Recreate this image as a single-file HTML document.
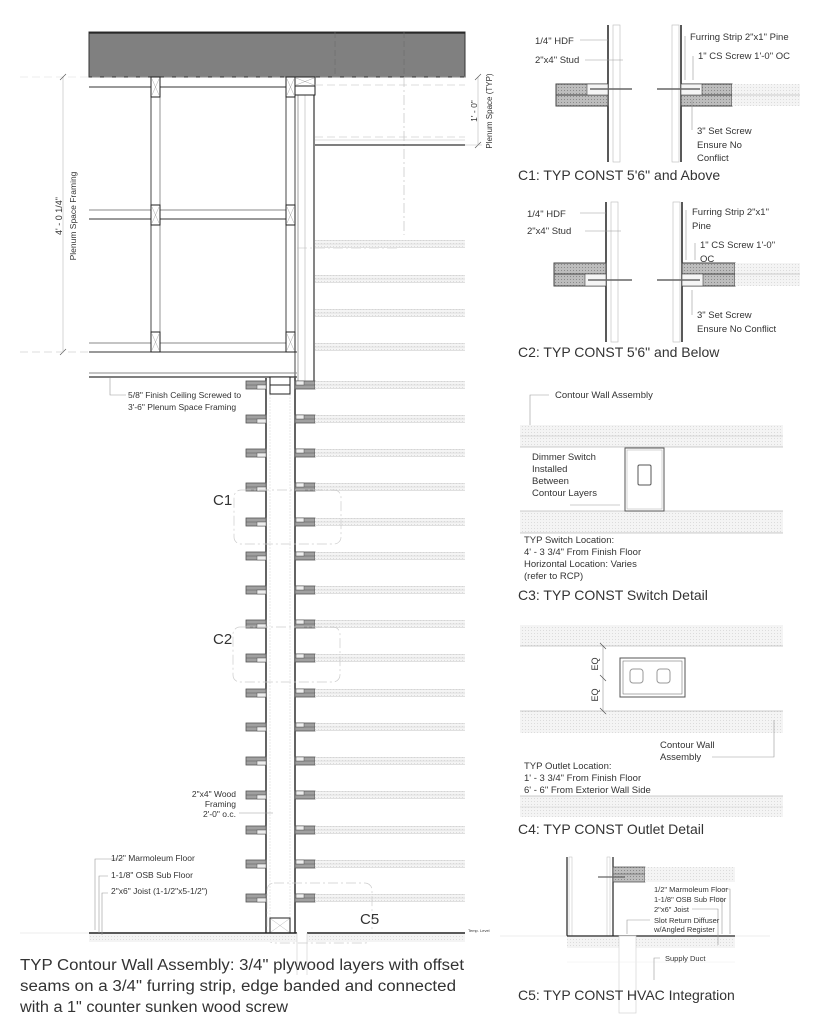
<!DOCTYPE html>
<html><head><meta charset="utf-8"><style>
html,body{margin:0;padding:0;background:#fff}
svg{display:block}
text{font-family:"Liberation Sans",sans-serif;fill:#333}
</style></head><body>
<svg width="819" height="1023" viewBox="0 0 819 1023" xmlns="http://www.w3.org/2000/svg">
<defs>
  <pattern id="hat" width="3" height="3" patternUnits="userSpaceOnUse">
    <rect width="3" height="3" fill="#bdbdbd"/><rect width="1" height="1" fill="#8a8a8a"/>
  </pattern>
  <pattern id="lt" width="3" height="3" patternUnits="userSpaceOnUse">
    <rect width="3" height="3" fill="#f4f4f4"/><rect width="1" height="1" fill="#dcdcdc"/>
  </pattern>
  <g id="strip">
    <rect x="246" y="0" width="20" height="8" fill="#a0a0a0" stroke="#555" stroke-width="0.8"/>
    <line x1="246" y1="4" x2="266" y2="4" stroke="#555" stroke-width="0.6"/>
    <rect x="257" y="4" width="9" height="4" fill="#eee" stroke="#555" stroke-width="0.5"/>
    <rect x="295" y="0" width="20" height="8" fill="#a0a0a0" stroke="#555" stroke-width="0.8"/>
    <line x1="295" y1="4" x2="315" y2="4" stroke="#555" stroke-width="0.6"/>
    <rect x="296" y="0" width="8" height="4" fill="#eee" stroke="#555" stroke-width="0.5"/>
    <rect x="315" y="0" width="150" height="8" fill="url(#lt)"/>
    <line x1="315" y1="0.5" x2="465" y2="0.5" stroke="#ccc" stroke-width="0.6"/>
    <line x1="315" y1="4" x2="465" y2="4" stroke="#ccc" stroke-width="0.6"/>
    <line x1="315" y1="7.5" x2="465" y2="7.5" stroke="#ccc" stroke-width="0.6"/>
  </g>
  <g id="lstrip">
    <rect x="315" y="0" width="150" height="8" fill="url(#lt)"/>
    <line x1="315" y1="0.5" x2="465" y2="0.5" stroke="#ccc" stroke-width="0.6"/>
    <line x1="315" y1="4" x2="465" y2="4" stroke="#ccc" stroke-width="0.6"/>
    <line x1="315" y1="7.5" x2="465" y2="7.5" stroke="#ccc" stroke-width="0.6"/>
  </g>
  <g id="blk">
    <rect x="0" y="0" width="9" height="20" fill="#fff" stroke="#222" stroke-width="1"/>
    <path d="M1 2 L8 18 M8 2 L1 18" stroke="#aaa" stroke-width="0.5"/>
  </g>
</defs>

<!-- slab -->
<rect x="89" y="32" width="376" height="45" fill="#808080" stroke="#333" stroke-width="1"/>
<line x1="89" y1="33" x2="465" y2="33" stroke="#222" stroke-width="1.2"/>
<line x1="335" y1="32" x2="335" y2="77" stroke="#6a6a6a" stroke-width="0.6" stroke-dasharray="6 3"/>
<line x1="404" y1="32" x2="404" y2="77" stroke="#6a6a6a" stroke-width="0.6" stroke-dasharray="6 3"/>

<!-- plenum framing -->
<line x1="20" y1="77" x2="465" y2="77" stroke="#ddd" stroke-width="0.6" stroke-dasharray="8 4"/>
<g stroke="#333" stroke-width="0.9" fill="none">
  <line x1="89" y1="87" x2="295" y2="87"/>
  <line x1="89" y1="210" x2="295" y2="210" stroke="#888"/>
  <line x1="89" y1="219" x2="295" y2="219"/>
  <line x1="89" y1="343" x2="295" y2="343" stroke="#888"/>
  <line x1="89" y1="352" x2="297" y2="352"/>
  <line x1="151" y1="77" x2="151" y2="352"/>
  <line x1="160" y1="77" x2="160" y2="352" stroke="#888"/>
  <line x1="286" y1="77" x2="286" y2="352"/>
  <line x1="295" y1="95" x2="295" y2="383"/>
  <line x1="298" y1="95" x2="298" y2="383" stroke="#999"/>
  <line x1="305" y1="95" x2="305" y2="383" stroke="#ccc"/>
  <line x1="314" y1="95" x2="314" y2="383" stroke-width="1.2"/>
  <line x1="89" y1="373" x2="297" y2="373" stroke="#888"/>
  <line x1="89" y1="377" x2="297" y2="377" stroke-width="1.2"/>
</g>
<use href="#blk" x="151" y="77"/><use href="#blk" x="286" y="77"/>
<use href="#blk" x="151" y="205"/><use href="#blk" x="286" y="205"/>
<use href="#blk" x="151" y="332"/><use href="#blk" x="286" y="332"/>
<rect x="295" y="77" width="20" height="9" fill="#fff" stroke="#222"/>
<rect x="295" y="86" width="20" height="9" fill="#fff" stroke="#222"/>
<path d="M296 78 L314 85 M314 78 L296 85" stroke="#aaa" stroke-width="0.5"/>

<!-- right plenum -->
<g stroke="#bbb" stroke-width="0.6" fill="none">
  <line x1="315" y1="85" x2="465" y2="85" stroke-dasharray="8 4"/>
  <line x1="315" y1="137" x2="465" y2="137" stroke-dasharray="8 4"/>
  <line x1="315" y1="140" x2="465" y2="140"/>
  <line x1="404" y1="77" x2="404" y2="235" stroke-dasharray="10 3 2 3"/>
  <path d="M297 248 L397 248 Q404 248 404 240" stroke-dasharray="10 3 2 3"/>
</g>
<line x1="315" y1="145" x2="465" y2="145" stroke="#333" stroke-width="1.2"/>
<use href="#lstrip" x="0" y="240"/>
<use href="#lstrip" x="0" y="275"/>
<use href="#lstrip" x="0" y="309"/>
<use href="#lstrip" x="0" y="343"/>

<!-- dimensions -->
<g stroke="#bbb" stroke-width="0.6">
  <line x1="63" y1="77" x2="63" y2="352"/>
  <line x1="60" y1="80" x2="66" y2="74" stroke="#555"/>
  <line x1="60" y1="355" x2="66" y2="349" stroke="#555"/>
  <line x1="20" y1="352" x2="89" y2="352" stroke-dasharray="8 4"/>
  <line x1="478" y1="77" x2="478" y2="145"/>
  <line x1="475" y1="80" x2="481" y2="74" stroke="#555"/>
  <line x1="475" y1="148" x2="481" y2="142" stroke="#555"/>
  <line x1="465" y1="145" x2="482" y2="145"/>
</g>
<text transform="translate(62,216) rotate(-90)" font-size="9" text-anchor="middle">4' - 0 1/4"</text>
<text transform="translate(76,216) rotate(-90)" font-size="8.5" text-anchor="middle">Plenum Space Framing</text>
<text transform="translate(477,111) rotate(-90)" font-size="8.5" text-anchor="middle">1' - 0"</text>
<text transform="translate(492,111) rotate(-90)" font-size="8" text-anchor="middle">Plenum Space (TYP)</text>

<!-- main wall -->
<g stroke="#222" fill="none">
  <line x1="266" y1="378" x2="266" y2="933" stroke-width="1.4"/>
  <line x1="295" y1="378" x2="295" y2="933" stroke-width="1.4"/>
  <line x1="270" y1="394" x2="270" y2="920" stroke="#ddd" stroke-width="0.6" stroke-dasharray="2 1"/>
  <line x1="290" y1="394" x2="290" y2="920" stroke="#ddd" stroke-width="0.6" stroke-dasharray="2 1"/>
</g>
<rect x="270" y="377" width="20" height="8" fill="#fff" stroke="#222"/>
<rect x="270" y="385" width="20" height="9" fill="#fff" stroke="#222"/>
<rect x="270" y="918" width="20" height="15" fill="#fff" stroke="#222"/>
<path d="M271 919 L289 932 M289 919 L271 932" stroke="#bbb" stroke-width="0.5"/>
<use href="#strip" y="381"/><use href="#strip" y="415"/><use href="#strip" y="449"/><use href="#strip" y="483"/>
<use href="#strip" y="518"/><use href="#strip" y="552"/><use href="#strip" y="586"/><use href="#strip" y="620"/>
<use href="#strip" y="654"/><use href="#strip" y="689"/><use href="#strip" y="723"/><use href="#strip" y="757"/>
<use href="#strip" y="791"/><use href="#strip" y="826"/><use href="#strip" y="860"/><use href="#strip" y="894"/>

<!-- callout boxes -->
<g fill="none" stroke="#ccc" stroke-width="0.7" stroke-dasharray="10 3 2 3">
  <rect x="234" y="490" width="107" height="54" rx="7"/>
  <rect x="233" y="627" width="107" height="55" rx="7"/>
  <rect x="267" y="883" width="105" height="60" rx="7"/>
</g>
<text x="213" y="505" font-size="15">C1</text>
<text x="213" y="644" font-size="15">C2</text>
<text x="360" y="924" font-size="15">C5</text>

<!-- floor -->
<rect x="89" y="934" width="208" height="8" fill="url(#lt)"/>
<rect x="307" y="934" width="158" height="8" fill="url(#lt)"/>
<line x1="89" y1="933" x2="297" y2="933" stroke="#222" stroke-width="1.4"/>
<line x1="307" y1="933" x2="465" y2="933" stroke="#222" stroke-width="1.4"/>
<line x1="20" y1="933" x2="89" y2="933" stroke="#ddd" stroke-width="0.6"/>
<line x1="297" y1="933" x2="297" y2="975" stroke="#ccc" stroke-width="0.6"/>
<line x1="307" y1="933" x2="307" y2="975" stroke="#ccc" stroke-width="0.6"/>
<text x="468" y="932" font-size="4" fill="#999">Temp. Level</text>

<!-- left labels -->
<g stroke="#999" stroke-width="0.6" fill="none">
  <polyline points="110,378 110,395 126,395"/>
  <line x1="239" y1="813" x2="273" y2="813"/>
  <polyline points="124,859 95,859 95,930"/>
  <polyline points="108,876 99,876 99,933"/>
  <polyline points="108,893 102,893 102,935"/>
</g>
<text x="128" y="398" font-size="8.5">5/8" Finish Ceiling Screwed to</text>
<text x="128" y="410" font-size="8.5">3'-6" Plenum Space Framing</text>
<text x="236" y="797" font-size="8.5" text-anchor="end">2"x4" Wood</text>
<text x="236" y="807" font-size="8.5" text-anchor="end">Framing</text>
<text x="236" y="817" font-size="8.5" text-anchor="end">2'-0" o.c.</text>
<text x="111" y="861" font-size="8.5">1/2" Marmoleum Floor</text>
<text x="111" y="878" font-size="8.5">1-1/8" OSB Sub Floor</text>
<text x="111" y="894" font-size="8.5">2"x6" Joist (1-1/2"x5-1/2")</text>

<text x="20" y="970" font-size="15.5" textLength="444" lengthAdjust="spacingAndGlyphs">TYP Contour Wall Assembly: 3/4" plywood layers with offset</text>
<text x="20" y="991" font-size="15.5" textLength="436" lengthAdjust="spacingAndGlyphs">seams on a 3/4" furring strip, edge banded and connected</text>
<text x="20" y="1012" font-size="15.5" textLength="268" lengthAdjust="spacingAndGlyphs">with a 1" counter sunken wood screw</text>

<!-- C1 -->
<g stroke="#222" fill="none">
  <line x1="608" y1="25" x2="608" y2="162" stroke-width="1.5"/>
  <rect x="613" y="25" width="7" height="137" stroke="#bbb" stroke-width="0.6"/>
  <rect x="672" y="25" width="7" height="137" stroke="#bbb" stroke-width="0.6"/>
  <line x1="681" y1="25" x2="681" y2="162" stroke-width="1.5"/>
</g>
<rect x="556" y="84" width="52" height="22" fill="url(#hat)" stroke="#444"/>
<line x1="556" y1="95" x2="608" y2="95" stroke="#444"/>
<rect x="587" y="84" width="21" height="11" fill="#f5f5f5" stroke="#444" stroke-width="0.6"/>
<line x1="590" y1="89" x2="632" y2="89" stroke="#666" stroke-width="1.5"/>
<rect x="681" y="84" width="51" height="22" fill="url(#hat)" stroke="#444"/>
<line x1="681" y1="95" x2="732" y2="95" stroke="#444"/>
<rect x="681" y="84" width="21" height="11" fill="#f5f5f5" stroke="#444" stroke-width="0.6"/>
<line x1="657" y1="89" x2="700" y2="89" stroke="#666" stroke-width="1.5"/>
<rect x="732" y="84" width="68" height="22" fill="url(#lt)"/>
<line x1="732" y1="95" x2="800" y2="95" stroke="#ccc"/>
<g stroke="#999" stroke-width="0.6">
  <line x1="580" y1="40" x2="608" y2="40"/><line x1="585" y1="60" x2="623" y2="60"/>
  <line x1="685" y1="36" x2="685" y2="80"/><line x1="693" y1="56" x2="693" y2="80"/>
  <line x1="692" y1="100" x2="692" y2="130"/>
</g>
<text x="535" y="44" font-size="9.5">1/4" HDF</text>
<text x="535" y="63" font-size="9.5">2"x4" Stud</text>
<text x="690" y="40" font-size="9.5">Furring Strip 2"x1" Pine</text>
<text x="698" y="59" font-size="9.5">1" CS Screw 1'-0" OC</text>
<text x="697" y="134" font-size="9.5">3" Set Screw</text>
<text x="697" y="148" font-size="9.5">Ensure No</text>
<text x="697" y="161" font-size="9.5">Conflict</text>
<text x="518" y="180" font-size="14">C1: TYP CONST 5'6" and Above</text>

<!-- C2 -->
<g stroke="#222" fill="none">
  <line x1="606" y1="202" x2="606" y2="342" stroke-width="1.5"/>
  <rect x="611" y="202" width="7" height="140" stroke="#bbb" stroke-width="0.6"/>
  <rect x="673" y="202" width="7" height="140" stroke="#bbb" stroke-width="0.6"/>
  <line x1="682" y1="202" x2="682" y2="342" stroke-width="1.5"/>
</g>
<rect x="554" y="263" width="52" height="23" fill="url(#hat)" stroke="#444"/>
<line x1="554" y1="274" x2="606" y2="274" stroke="#444"/>
<rect x="585" y="274" width="21" height="12" fill="#f5f5f5" stroke="#444" stroke-width="0.6"/>
<line x1="588" y1="280" x2="632" y2="280" stroke="#666" stroke-width="1.5"/>
<rect x="682" y="263" width="53" height="23" fill="url(#hat)" stroke="#444"/>
<line x1="682" y1="274" x2="735" y2="274" stroke="#444"/>
<rect x="682" y="274" width="21" height="12" fill="#f5f5f5" stroke="#444" stroke-width="0.6"/>
<line x1="657" y1="280" x2="700" y2="280" stroke="#666" stroke-width="1.5"/>
<rect x="735" y="263" width="65" height="23" fill="url(#lt)"/>
<line x1="735" y1="274" x2="800" y2="274" stroke="#ccc"/>
<g stroke="#999" stroke-width="0.6">
  <line x1="580" y1="213" x2="606" y2="213"/><line x1="585" y1="231" x2="621" y2="231"/>
  <line x1="686" y1="210" x2="686" y2="260"/><line x1="695" y1="243" x2="695" y2="260"/>
  <line x1="692" y1="290" x2="692" y2="315"/>
</g>
<text x="527" y="217" font-size="9.5">1/4" HDF</text>
<text x="527" y="234" font-size="9.5">2"x4" Stud</text>
<text x="692" y="215" font-size="9.5">Furring Strip 2"x1"</text>
<text x="692" y="229" font-size="9.5">Pine</text>
<text x="700" y="248" font-size="9.5">1" CS Screw 1'-0"</text>
<text x="700" y="262" font-size="9.5">OC</text>
<text x="697" y="318" font-size="9.5">3" Set Screw</text>
<text x="697" y="332" font-size="9.5">Ensure No Conflict</text>
<text x="518" y="357" font-size="14">C2: TYP CONST 5'6" and Below</text>

<!-- C3 -->
<polyline points="549,395 530,395 530,425" stroke="#999" stroke-width="0.6" fill="none"/>
<text x="555" y="398" font-size="9.5">Contour Wall Assembly</text>
<rect x="520" y="425" width="263" height="22" fill="url(#lt)"/>
<line x1="520" y1="436" x2="783" y2="436" stroke="#bbb" stroke-width="0.6"/>
<line x1="520" y1="447" x2="783" y2="447" stroke="#999" stroke-width="0.6"/>
<rect x="520" y="511" width="263" height="22" fill="url(#lt)"/>
<line x1="520" y1="511" x2="783" y2="511" stroke="#999" stroke-width="0.6"/>
<line x1="520" y1="533" x2="783" y2="533" stroke="#999" stroke-width="0.6"/>
<rect x="625" y="448" width="39" height="63" fill="#fff" stroke="#555"/>
<rect x="627" y="450" width="35" height="59" fill="none" stroke="#aaa" stroke-width="0.5"/>
<rect x="638" y="465" width="13" height="20" rx="1.5" fill="#fff" stroke="#555"/>
<line x1="570" y1="505" x2="620" y2="505" stroke="#999" stroke-width="0.6"/>
<text x="532" y="460" font-size="9.5">Dimmer Switch</text>
<text x="532" y="472" font-size="9.5">Installed</text>
<text x="532" y="484" font-size="9.5">Between</text>
<text x="532" y="496" font-size="9.5">Contour Layers</text>
<text x="524" y="543" font-size="9.5">TYP Switch Location:</text>
<text x="524" y="555" font-size="9.5">4' - 3 3/4" From Finish Floor</text>
<text x="524" y="567" font-size="9.5">Horizontal Location: Varies</text>
<text x="524" y="579" font-size="9.5">(refer to RCP)</text>
<text x="518" y="600" font-size="14">C3: TYP CONST Switch Detail</text>

<!-- C4 -->
<rect x="520" y="625" width="263" height="21" fill="url(#lt)"/>
<line x1="520" y1="646" x2="783" y2="646" stroke="#999" stroke-width="0.6"/>
<rect x="520" y="711" width="263" height="22" fill="url(#lt)"/>
<line x1="520" y1="711" x2="783" y2="711" stroke="#999" stroke-width="0.6"/>
<rect x="620" y="658" width="65" height="39" fill="#fff" stroke="#555"/>
<rect x="623" y="661" width="59" height="33" fill="none" stroke="#777" stroke-width="0.6"/>
<rect x="630" y="669" width="13" height="14" rx="3" fill="#fff" stroke="#999"/>
<rect x="657" y="669" width="13" height="14" rx="3" fill="#fff" stroke="#999"/>
<line x1="603" y1="646" x2="603" y2="711" stroke="#999" stroke-width="0.6"/>
<g stroke="#555" stroke-width="0.7"><line x1="600" y1="643" x2="606" y2="649"/><line x1="600" y1="675" x2="606" y2="681"/><line x1="600" y1="708" x2="606" y2="714"/></g>
<text transform="translate(598,664) rotate(-90)" font-size="9" text-anchor="middle">EQ</text>
<text transform="translate(598,695) rotate(-90)" font-size="9" text-anchor="middle">EQ</text>
<polyline points="712,757 774,757 774,720" stroke="#999" stroke-width="0.6" fill="none"/>
<text x="660" y="748" font-size="9.5">Contour Wall</text>
<text x="660" y="760" font-size="9.5">Assembly</text>
<text x="524" y="769" font-size="9.5">TYP Outlet Location:</text>
<text x="524" y="781" font-size="9.5">1' - 3 3/4" From Finish Floor</text>
<text x="524" y="793" font-size="9.5">6' - 6" From Exterior Wall Side</text>
<rect x="520" y="796" width="263" height="21" fill="url(#lt)"/>
<line x1="520" y1="796" x2="783" y2="796" stroke="#999" stroke-width="0.6"/>
<line x1="520" y1="807" x2="783" y2="807" stroke="#ccc" stroke-width="0.6"/>
<text x="518" y="834" font-size="14">C4: TYP CONST Outlet Detail</text>

<!-- C5 -->
<g stroke="#222" fill="none">
  <line x1="567" y1="857" x2="567" y2="936" stroke-width="1.2"/>
  <rect x="569" y="857" width="3" height="79" stroke="#bbb" stroke-width="0.5"/>
  <rect x="607" y="857" width="3" height="79" stroke="#bbb" stroke-width="0.5"/>
  <line x1="613" y1="857" x2="613" y2="936" stroke-width="1.2"/>
</g>
<rect x="613" y="867" width="32" height="15" fill="url(#hat)" stroke="#444" stroke-width="0.7"/>
<line x1="613" y1="874" x2="645" y2="874" stroke="#444" stroke-width="0.6"/>
<line x1="598" y1="877" x2="625" y2="877" stroke="#666" stroke-width="1.3"/>
<rect x="645" y="867" width="90" height="15" fill="url(#lt)"/>
<rect x="567" y="937" width="168" height="11" fill="url(#lt)"/>
<line x1="567" y1="936" x2="735" y2="936" stroke="#222" stroke-width="1.2"/>
<line x1="500" y1="936" x2="567" y2="936" stroke="#ddd" stroke-width="0.5"/>
<line x1="735" y1="936" x2="770" y2="936" stroke="#ddd" stroke-width="0.5"/>
<rect x="619" y="936" width="17" height="77" fill="#fff" stroke="#ccc" stroke-width="0.6"/>
<line x1="567" y1="962" x2="735" y2="962" stroke="#eee" stroke-width="0.5"/>
<g stroke="#999" stroke-width="0.6" fill="none">
  <polyline points="723,889 730,889 730,934"/>
  <polyline points="715,898 722,898 722,934"/>
  <polyline points="692,909 718,909 718,945"/>
  <polyline points="650,920 627,920 627,934"/>
  <polyline points="660,958 654,958 654,980"/>
</g>
<text x="654" y="892" font-size="7.5">1/2" Marmoleum Floor</text>
<text x="654" y="902" font-size="7.5">1-1/8" OSB Sub Floor</text>
<text x="654" y="912" font-size="7.5">2"x6" Joist</text>
<text x="654" y="923" font-size="7.5">Slot Return Diffuser</text>
<text x="654" y="932" font-size="7.5">w/Angled Register</text>
<text x="665" y="961" font-size="7.5">Supply Duct</text>
<text x="518" y="1000" font-size="14">C5: TYP CONST HVAC Integration</text>
</svg>
</body></html>
